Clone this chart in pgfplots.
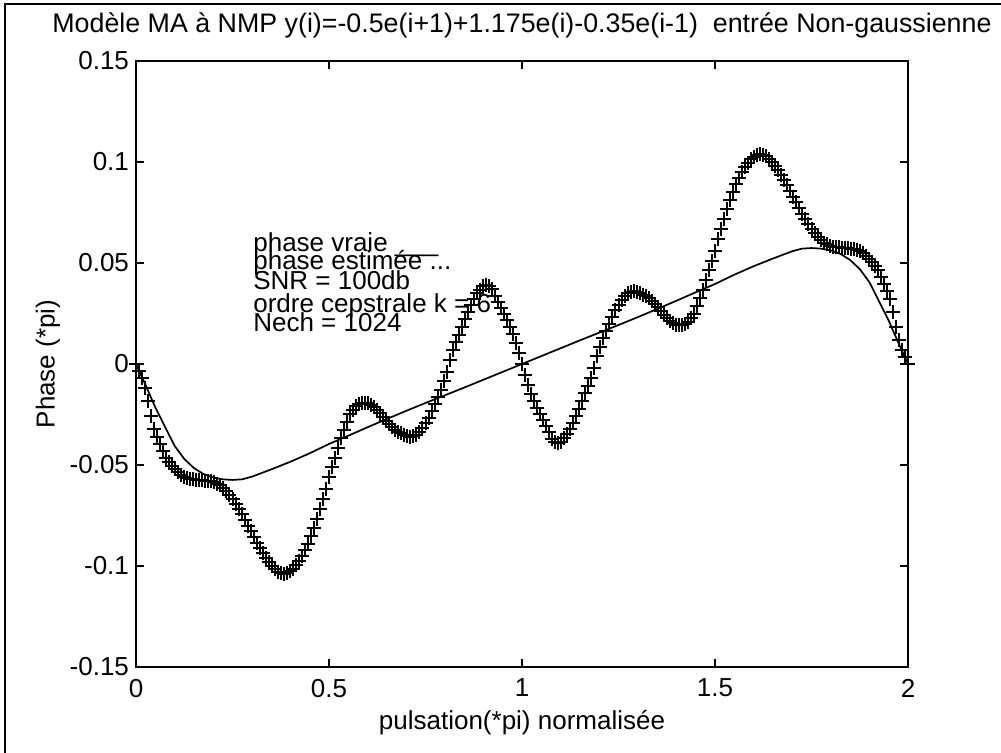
\documentclass[border=0pt]{standalone}
\usepackage{pgfplots}
\pgfplotsset{compat=1.18}
\usepackage{fontspec}
\setmainfont{Liberation Sans}
\begin{document}
\begin{tikzpicture}
\path[use as bounding box] (0,0) rectangle (500.5pt,376.5pt);
\draw[line width=0.6pt] (2.5pt,0) -- (2.5pt,374.5pt) -- (500.5pt,374.5pt);
\begin{axis}[
  at={(68pt,43pt)}, anchor=south west,
  width=386pt, height=303pt, scale only axis,
  xmin=0, xmax=2, ymin=-0.15, ymax=0.15,
  xtick={0,0.5,1,1.5,2}, xticklabels={0,0.5,1,1.5,2},
  ytick={-0.15,-0.1,-0.05,0,0.05,0.1,0.15},
  yticklabels={-0.15,-0.1,-0.05,0,0.05,0.1,0.15},
  axis line style={line width=1.1pt},
  major tick style={line width=0.6pt, black},
  major tick length=4pt,
  tick label style={font=\fontsize{13}{15}\selectfont},
  xticklabel style={yshift=-2.5pt},
  title={Modèle MA à NMP y(i)=-0.5e(i+1)+1.175e(i)-0.35e(i-1)\ \ entrée Non-gaussienne},
  title style={font=\fontsize{13.4}{15}\selectfont, at={(0.5,1)}, anchor=base, yshift=8pt},
  xlabel={pulsation(*pi) normalisée},
  xlabel style={font=\fontsize{13}{15}\selectfont, at={(0.5,0)}, anchor=center, yshift=-28pt},
  ylabel={Phase (*pi)},
  ylabel style={font=\fontsize{13}{15}\selectfont, at={(0,0.5)}, anchor=center, yshift=44pt},
  clip=false,
]
\addplot[black, line width=0.85pt] coordinates {
(0,0) (0.025,-0.0105) (0.05,-0.0215) (0.075,-0.031) (0.1,-0.0405) (0.125,-0.047)
(0.15,-0.0515) (0.175,-0.0545) (0.2,-0.0562) (0.225,-0.0571) (0.25,-0.0574) (0.275,-0.0571)
(0.3,-0.0558) (0.35,-0.0522) (0.4,-0.0484) (0.45,-0.0442) (0.5,-0.0396) (0.55,-0.0355)
(0.6,-0.0313) (0.65,-0.0272) (0.7,-0.0232) (0.75,-0.0193) (0.8,-0.0155) (0.85,-0.0117)
(0.9,-0.0078) (0.95,-0.0039) (1,0) (1.05,0.0039) (1.1,0.0078) (1.15,0.0117) (1.2,0.0155)
(1.25,0.0193) (1.3,0.0232) (1.35,0.0272) (1.4,0.0313) (1.45,0.0355) (1.5,0.0396)
(1.55,0.0442) (1.6,0.0484) (1.65,0.0522) (1.7,0.0558) (1.725,0.0571) (1.75,0.0574)
(1.775,0.0571) (1.8,0.0562) (1.825,0.0545) (1.85,0.0515) (1.875,0.047) (1.9,0.0405)
(1.925,0.031) (1.95,0.0215) (1.975,0.0105) (2,0)
};
\addplot[black, only marks, mark=+, mark size=3.5pt, mark options={line width=1pt}] table[row sep=\\] {
x y \\
0 0.0000 \\ 0.0078 -0.0034 \\ 0.0156 -0.0067 \\ 0.0234 -0.0119 \\ 0.0313 -0.0184 \\
0.0391 -0.0256 \\ 0.0469 -0.0320 \\ 0.0547 -0.0359 \\ 0.0625 -0.0398 \\ 0.0703 -0.0433 \\
0.0781 -0.0463 \\ 0.0859 -0.0484 \\ 0.0938 -0.0504 \\ 0.1016 -0.0522 \\ 0.1094 -0.0537 \\
0.1172 -0.0551 \\ 0.125 -0.0558 \\ 0.1328 -0.0564 \\ 0.1406 -0.0570 \\ 0.1484 -0.0571 \\
0.1563 -0.0572 \\ 0.1641 -0.0574 \\ 0.1719 -0.0575 \\ 0.1797 -0.0577 \\ 0.1875 -0.0579 \\
0.1953 -0.0581 \\ 0.2031 -0.0585 \\ 0.2109 -0.0593 \\ 0.2188 -0.0601 \\ 0.2266 -0.0613 \\
0.2344 -0.0628 \\ 0.2422 -0.0647 \\ 0.25 -0.0670 \\ 0.2578 -0.0694 \\ 0.2656 -0.0719 \\
0.2734 -0.0744 \\ 0.2813 -0.0773 \\ 0.2891 -0.0802 \\ 0.2969 -0.0828 \\ 0.3047 -0.0855 \\
0.3125 -0.0886 \\ 0.3203 -0.0913 \\ 0.3281 -0.0938 \\ 0.3359 -0.0959 \\ 0.3438 -0.0980 \\
0.3516 -0.0998 \\ 0.3594 -0.1015 \\ 0.3672 -0.1028 \\ 0.375 -0.1034 \\ 0.3828 -0.1040 \\
0.3906 -0.1035 \\ 0.3984 -0.1025 \\ 0.4063 -0.1014 \\ 0.4141 -0.0997 \\ 0.4219 -0.0977 \\
0.4297 -0.0951 \\ 0.4375 -0.0922 \\ 0.4453 -0.0889 \\ 0.4531 -0.0851 \\ 0.4609 -0.0811 \\
0.4688 -0.0766 \\ 0.4766 -0.0720 \\ 0.4844 -0.0669 \\ 0.4922 -0.0617 \\ 0.5 -0.0558 \\
0.5078 -0.0508 \\ 0.5156 -0.0464 \\ 0.5234 -0.0414 \\ 0.5313 -0.0368 \\ 0.5391 -0.0326 \\
0.5469 -0.0286 \\ 0.5547 -0.0249 \\ 0.5625 -0.0230 \\ 0.5703 -0.0209 \\ 0.5781 -0.0200 \\
0.5859 -0.0193 \\ 0.5938 -0.0192 \\ 0.6016 -0.0195 \\ 0.6094 -0.0203 \\ 0.6172 -0.0214 \\
0.625 -0.0226 \\ 0.6328 -0.0242 \\ 0.6406 -0.0262 \\ 0.6484 -0.0282 \\ 0.6563 -0.0298 \\
0.6641 -0.0312 \\ 0.6719 -0.0327 \\ 0.6797 -0.0337 \\ 0.6875 -0.0343 \\ 0.6953 -0.0350 \\
0.7031 -0.0358 \\ 0.7109 -0.0361 \\ 0.7188 -0.0358 \\ 0.7266 -0.0350 \\ 0.7344 -0.0338 \\
0.7422 -0.0315 \\ 0.75 -0.0290 \\ 0.7578 -0.0265 \\ 0.7656 -0.0231 \\ 0.7734 -0.0197 \\
0.7813 -0.0162 \\ 0.7891 -0.0127 \\ 0.7969 -0.0084 \\ 0.8047 -0.0038 \\ 0.8125 0.0019 \\
0.8203 0.0069 \\ 0.8281 0.0107 \\ 0.8359 0.0145 \\ 0.8438 0.0184 \\ 0.8516 0.0222 \\
0.8594 0.0259 \\ 0.8672 0.0293 \\ 0.875 0.0321 \\ 0.8828 0.0349 \\ 0.8906 0.0368 \\
0.8984 0.0385 \\ 0.9063 0.0391 \\ 0.9141 0.0386 \\ 0.9219 0.0373 \\ 0.9297 0.0337 \\
0.9375 0.0309 \\ 0.9453 0.0279 \\ 0.9531 0.0249 \\ 0.9609 0.0218 \\ 0.9688 0.0184 \\
0.9766 0.0150 \\ 0.9844 0.0106 \\ 0.9922 0.0055 \\ 1 0.0000 \\
1.0078 -0.0055 \\ 1.0156 -0.0106 \\ 1.0234 -0.0150 \\ 1.0313 -0.0184 \\ 1.0391 -0.0218 \\
1.0469 -0.0249 \\ 1.0547 -0.0279 \\ 1.0625 -0.0309 \\ 1.0703 -0.0337 \\ 1.0781 -0.0373 \\
1.0859 -0.0386 \\ 1.0938 -0.0391 \\ 1.1016 -0.0385 \\ 1.1094 -0.0368 \\ 1.1172 -0.0349 \\
1.125 -0.0321 \\ 1.1328 -0.0293 \\ 1.1406 -0.0259 \\ 1.1484 -0.0222 \\ 1.1563 -0.0184 \\
1.1641 -0.0145 \\ 1.1719 -0.0107 \\ 1.1797 -0.0069 \\ 1.1875 -0.0019 \\ 1.1953 0.0038 \\
1.2031 0.0084 \\ 1.2109 0.0127 \\ 1.2188 0.0162 \\ 1.2266 0.0197 \\ 1.2344 0.0231 \\
1.2422 0.0265 \\ 1.25 0.0290 \\ 1.2578 0.0315 \\ 1.2656 0.0338 \\ 1.2734 0.0350 \\
1.2813 0.0358 \\ 1.2891 0.0361 \\ 1.2969 0.0358 \\ 1.3047 0.0350 \\ 1.3125 0.0343 \\
1.3203 0.0337 \\ 1.3281 0.0327 \\ 1.3359 0.0312 \\ 1.3438 0.0298 \\ 1.3516 0.0282 \\
1.3594 0.0262 \\ 1.3672 0.0242 \\ 1.375 0.0226 \\ 1.3828 0.0214 \\ 1.3906 0.0203 \\
1.3984 0.0195 \\ 1.4063 0.0192 \\ 1.4141 0.0193 \\ 1.4219 0.0200 \\ 1.4297 0.0209 \\
1.4375 0.0230 \\ 1.4453 0.0249 \\ 1.4531 0.0286 \\ 1.4609 0.0326 \\ 1.4688 0.0368 \\
1.4766 0.0414 \\ 1.4844 0.0464 \\ 1.4922 0.0508 \\ 1.5 0.0558 \\ 1.5078 0.0617 \\
1.5156 0.0669 \\ 1.5234 0.0720 \\ 1.5313 0.0766 \\ 1.5391 0.0811 \\ 1.5469 0.0851 \\
1.5547 0.0889 \\ 1.5625 0.0922 \\ 1.5703 0.0951 \\ 1.5781 0.0977 \\ 1.5859 0.0997 \\
1.5938 0.1014 \\ 1.6016 0.1025 \\ 1.6094 0.1035 \\ 1.6172 0.1040 \\ 1.625 0.1034 \\
1.6328 0.1028 \\ 1.6406 0.1015 \\ 1.6484 0.0998 \\ 1.6563 0.0980 \\ 1.6641 0.0959 \\
1.6719 0.0938 \\ 1.6797 0.0913 \\ 1.6875 0.0886 \\ 1.6953 0.0855 \\ 1.7031 0.0828 \\
1.7109 0.0802 \\ 1.7188 0.0773 \\ 1.7266 0.0744 \\ 1.7344 0.0719 \\ 1.7422 0.0694 \\
1.75 0.0670 \\ 1.7578 0.0647 \\ 1.7656 0.0628 \\ 1.7734 0.0613 \\ 1.7813 0.0601 \\
1.7891 0.0593 \\ 1.7969 0.0585 \\ 1.8047 0.0581 \\ 1.8125 0.0579 \\ 1.8203 0.0577 \\
1.8281 0.0575 \\ 1.8359 0.0574 \\ 1.8438 0.0572 \\ 1.8516 0.0571 \\ 1.8594 0.0570 \\
1.8672 0.0564 \\ 1.875 0.0558 \\ 1.8828 0.0551 \\ 1.8906 0.0537 \\ 1.8984 0.0522 \\
1.9063 0.0504 \\ 1.9141 0.0484 \\ 1.9219 0.0463 \\ 1.9297 0.0433 \\ 1.9375 0.0398 \\
1.9453 0.0359 \\ 1.9531 0.0320 \\ 1.9609 0.0256 \\ 1.9688 0.0184 \\ 1.9766 0.0119 \\
1.9844 0.0067 \\ 1.9922 0.0034 \\ 2 0.0000 \\
};
\begin{scope}[every node/.style={font=\fontsize{13}{15}\selectfont, anchor=base west, inner sep=0pt}]
\node at (axis cs:0.303,0.0559) {phase vraie \_\_\_};
\node at (axis cs:0.303,0.0469) {phase estimée ...};
\node at (axis cs:0.303,0.0370) {SNR = 100db};
\node at (axis cs:0.303,0.0256) {ordre cepstrale k = 6};
\node at (axis cs:0.303,0.0161) {Nech = 1024};
\end{scope}
\end{axis}
\end{tikzpicture}
\end{document}
